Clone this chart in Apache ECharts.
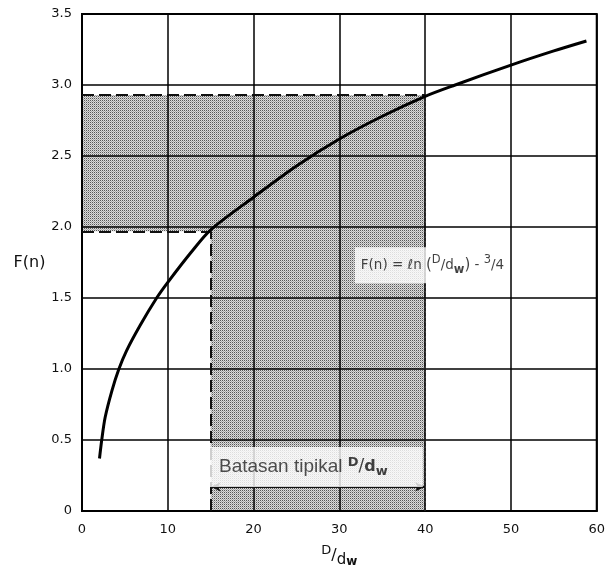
<!DOCTYPE html>
<html>
<head>
<meta charset="utf-8">
<script src="https://cdn.jsdelivr.net/npm/echarts@6/dist/echarts.min.js"></script>
<style>html,body{margin:0;padding:0;background:#fff}#c{width:608px;height:573px}</style>
</head>
<body>
<div id="c"></div>
<script>
// ---- data ----
const ratioValues = [2.04, 2.3, 2.7, 3.5, 4.3, 5.2, 6.8, 8.7, 10, 12.7, 15, 20, 25, 30, 35, 40, 43.5, 50, 55, 58.8];
const fnValues    = [0.37, 0.5, 0.66, 0.85, 1.0, 1.13, 1.31, 1.5, 1.61, 1.82, 1.98, 2.21, 2.43, 2.62, 2.78, 2.92, 3.0, 3.14, 3.24, 3.31];
const typicalRange = [15, 40];        // typical D/dw limits
const fnLevels = [1.97, 2.93];        // F(n) at the limits
const xTicks = [0, 10, 20, 30, 40, 50, 60];
const yTicks = [0, 0.5, 1.0, 1.5, 2.0, 2.5, 3.0, 3.5];

const FONT = 'DejaVu Sans';

// dotted halftone pattern (semi-transparent so the grid shows through)
const pc = document.createElement('canvas');
pc.width = 2; pc.height = 2;
const g = pc.getContext('2d');
g.fillStyle = 'rgba(0,0,0,0.14)'; g.fillRect(0, 0, 2, 2);
g.clearRect(0, 0, 1, 1); g.fillStyle = 'rgba(0,0,0,0.66)'; g.fillRect(0, 0, 1, 1);
g.clearRect(1, 1, 1, 1); g.fillStyle = 'rgba(0,0,0,0.34)'; g.fillRect(1, 1, 1, 1);
const pattern = { image: pc, repeat: 'repeat' };

const curve = ratioValues.map((x, i) => [x, fnValues[i]]);
const [r0, r1] = typicalRange;
const [lo, hi] = fnLevels;

const chart = echarts.init(document.getElementById('c'), null, { renderer: 'canvas' });
const dash = { color: '#111', type: [12, 5], width: 2 };

chart.setOption({
  animation: false,
  grid: { left: 82, right: 11, top: 14, bottom: 59, show: true, borderColor: '#000', borderWidth: 2 },
  xAxis: {
    type: 'value', min: xTicks[0], max: xTicks[xTicks.length - 1], interval: 10,
    axisLine: { show: true, lineStyle: { color: '#000', width: 2 } },
    axisTick: { show: false },
    axisLabel: { color: '#111', fontFamily: FONT, fontSize: 13, margin: 12 },
    splitLine: { show: true, lineStyle: { color: '#000', width: 1.5 } },
    name: '{s|D}{t|/}{d|d}{w|w}',
    nameLocation: 'middle', nameGap: 33,
    nameTextStyle: {
      rich: {
        s: { fontFamily: FONT, fontSize: 13, color: '#111', verticalAlign: 'top', lineHeight: 24 },
        t: { fontFamily: FONT, fontSize: 16, color: '#111', lineHeight: 24 },
        d: { fontFamily: FONT, fontSize: 15, color: '#111', lineHeight: 24, verticalAlign: 'bottom' },
        w: { fontFamily: FONT, fontSize: 12, color: '#111', fontWeight: 'bold', verticalAlign: 'bottom', lineHeight: 18, padding: [6, 0, 0, 0] }
      }
    }
  },
  yAxis: {
    type: 'value', min: yTicks[0], max: yTicks[yTicks.length - 1], interval: 0.5,
    axisLine: { show: true, lineStyle: { color: '#000', width: 2 } },
    axisTick: { show: false },
    axisLabel: { color: '#111', fontFamily: FONT, fontSize: 13, margin: 10,
      formatter: v => (v === 0 ? '0' : v.toFixed(1)) },
    splitLine: { show: true, lineStyle: { color: '#000', width: 1.5 } },
    name: 'F(n)', nameLocation: 'middle', nameRotate: 0, nameGap: 34,
    nameTextStyle: { color: '#111', fontFamily: FONT, fontSize: 16, align: 'right' }
  },
  series: [
    {
      type: 'line', data: [], z: 2, silent: true,
      markArea: {
        silent: true,
        itemStyle: { color: pattern, opacity: 1 },
        data: [
          [{ coord: [xTicks[0], lo] }, { coord: [r1, hi] }],
          [{ coord: [r0, yTicks[0]] }, { coord: [r1, lo] }]
        ]
      },
      markLine: {
        silent: true, symbol: 'none', label: { show: false },
        lineStyle: dash,
        data: [
          [{ coord: [xTicks[0], hi] }, { coord: [r1, hi] }],
          [{ coord: [xTicks[0], lo] }, { coord: [r0, lo] }],
          [{ coord: [r0, yTicks[0]] }, { coord: [r0, lo] }],
          [{ coord: [r1, yTicks[0]] }, { coord: [r1, hi], lineStyle: { color: '#222', type: [3, 2], width: 1.8 } }]
        ]
      }
    },
    {
      type: 'line', data: curve, z: 5, smooth: 0.3,
      showSymbol: false, silent: true,
      lineStyle: { color: '#000', width: 3 }
    },
    {
      type: 'scatter', z: 6, silent: true, symbolSize: 0,
      data: [[31.8, 1.73]],
      label: {
        show: true, position: 'right', distance: 0,
        backgroundColor: '#fff', padding: [7, 3, 7, 6],
        formatter: '{t|F(n) = ℓn }{b|(}{s|D}{t|/}{t|d}{w|w}{b|)}{t| - }{s|3}{t|/}{t|4}',
        rich: {
          t: { fontFamily: FONT, fontSize: 13.5, color: '#111', lineHeight: 22 },
          b: { fontFamily: FONT, fontSize: 15, color: '#111', lineHeight: 22 },
          s: { fontFamily: FONT, fontSize: 11.5, color: '#111', verticalAlign: 'top', lineHeight: 22 },
          w: { fontFamily: FONT, fontSize: 11.5, color: '#111', fontWeight: 'bold', verticalAlign: 'bottom', lineHeight: 22, padding: [8, 0, 0, 0] }
        }
      }
    },
    {
      type: 'scatter', z: 6, silent: true, symbolSize: 0,
      data: [[14.8, 0.31]],
      label: {
        show: true, position: 'right', distance: 0,
        backgroundColor: '#fff', padding: [9, 35, 9, 10],
        formatter: '{t|Batasan tipikal }{s|D}{t2|/}{d|d}{w|w}',
        rich: {
          t: { fontFamily: 'Liberation Sans', fontSize: 19, color: '#222', lineHeight: 22 },
          t2: { fontFamily: FONT, fontSize: 17, color: '#111', lineHeight: 22 },
          s: { fontFamily: FONT, fontSize: 13, color: '#111', fontWeight: 'bold', verticalAlign: 'top', lineHeight: 22 },
          d: { fontFamily: FONT, fontSize: 16, color: '#111', fontWeight: 'bold', lineHeight: 22 },
          w: { fontFamily: FONT, fontSize: 13, color: '#111', fontWeight: 'bold', verticalAlign: 'bottom', lineHeight: 22, padding: [9, 0, 0, 0] }
        }
      }
    },
    {
      type: 'line', data: [], z: 6, silent: true,
      markLine: {
        silent: true, symbol: ['arrow', 'arrow'], symbolSize: [7, 10], label: { show: false },
        lineStyle: { color: '#111', type: 'solid', width: 2 },
        data: [[{ coord: [r0, 0.17] }, { coord: [r1, 0.17] }]]
      }
    }
  ]
});
</script>
</body>
</html>
